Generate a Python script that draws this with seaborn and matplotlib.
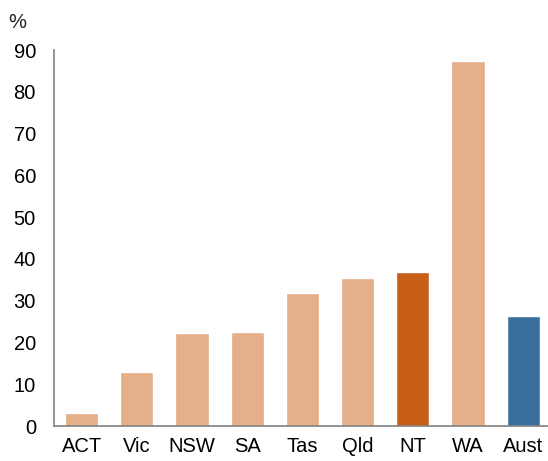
import matplotlib
matplotlib.use("Agg")
import matplotlib.pyplot as plt
import seaborn as sns
import pandas as pd

categories = ["ACT", "Vic", "NSW", "SA", "Tas", "Qld", "NT", "WA", "Aust"]
values = [3.0, 12.9, 22.3, 22.5, 31.8, 35.4, 36.9, 87.4, 26.3]
colors = ["#E4AF89"] * 6 + ["#C95E16", "#E4AF89", "#3A709E"]
yticks = [0, 10, 20, 30, 40, 50, 60, 70, 80, 90]

sns.set_style("white")
plt.rcParams["font.family"] = ["Liberation Sans", "DejaVu Sans"]

df = pd.DataFrame({"cat": categories, "val": values})
fig = plt.figure(figsize=(5.48, 4.61), dpi=100)
ax = fig.add_axes([54 / 548, 35 / 461, 1 - 54 / 548, 376 / 461])
sns.barplot(data=df, x="cat", y="val", hue="cat", palette=dict(zip(categories, colors)),
            width=0.6, legend=False, ax=ax, saturation=1)
ax.set_xlim(-0.5, 8.45)
ax.set_ylim(0, 90)
ax.set_yticks(yticks)
ax.set_xlabel("")
ax.set_ylabel("")
for s in ["top", "right"]:
    ax.spines[s].set_visible(False)
for s in ["left", "bottom"]:
    ax.spines[s].set_color("#808080")
    ax.spines[s].set_linewidth(1.2)
fs = 14.5
ax.tick_params(axis="y", length=0, pad=13, labelsize=fs, colors="black")
ax.tick_params(axis="x", length=0, pad=8, labelsize=fs, colors="black")
fig.text(17 / 548, 1 - 23 / 461, "%", ha="center", va="center", fontsize=fs)
fig.savefig("out.png", dpi=100)
